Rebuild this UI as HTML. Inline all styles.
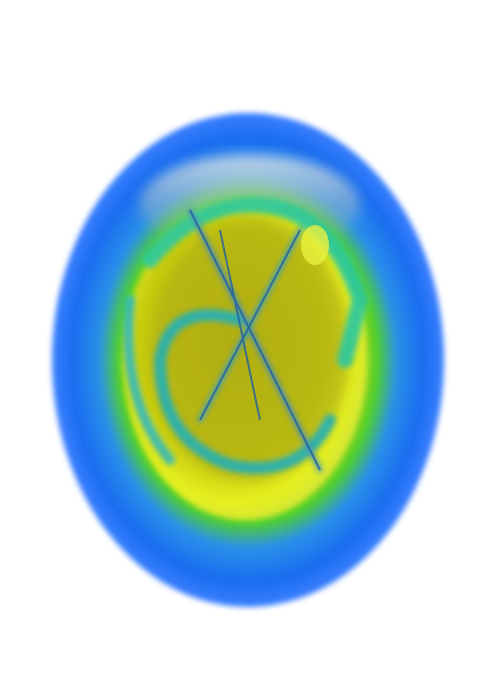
<!DOCTYPE html>
<html><head><meta charset="utf-8"><style>
html,body{margin:0;padding:0;background:#fff;width:492px;height:688px;overflow:hidden}
svg{display:block}
</style></head><body>
<svg width="492" height="688" viewBox="0 0 492 688" xmlns="http://www.w3.org/2000/svg">
<defs>
<radialGradient id="g1" cx="0.5" cy="0.5" r="0.5">
<stop offset="0" stop-color="#c8d400"/>
<stop offset="0.55" stop-color="#b8d820"/>
<stop offset="0.66" stop-color="#50d028"/>
<stop offset="0.76" stop-color="#2a90e8"/>
<stop offset="0.9" stop-color="#1a6cf0"/>
<stop offset="1" stop-color="#3a80ff"/>
</radialGradient>
<radialGradient id="g2" cx="0.45" cy="0.45" r="0.55">
<stop offset="0" stop-color="#b4b010"/>
<stop offset="0.7" stop-color="#c8cc10"/>
<stop offset="0.9" stop-color="#e6f020"/>
<stop offset="1" stop-color="#d8e830"/>
</radialGradient>
<linearGradient id="sil" x1="0" y1="0" x2="0" y2="1">
<stop offset="0" stop-color="#dde4ea" stop-opacity="0.85"/>
<stop offset="1" stop-color="#a0a8a0" stop-opacity="0"/>
</linearGradient>
<filter id="b6"><feGaussianBlur stdDeviation="6"/></filter>
<filter id="b3"><feGaussianBlur stdDeviation="3"/></filter>
</defs>
<ellipse cx="248" cy="360" rx="196" ry="247" fill="url(#g1)" filter="url(#b3)"/>
<ellipse cx="250" cy="205" rx="110" ry="50" fill="url(#sil)" filter="url(#b6)"/>
<ellipse cx="245" cy="360" rx="122" ry="160" fill="url(#g2)" filter="url(#b3)"/>
<ellipse cx="250" cy="350" rx="100" ry="130" fill="#b0ac18" opacity="0.6" filter="url(#b6)"/>
<g fill="none" stroke-linecap="round" filter="url(#b3)" opacity="0.9">
<path d="M150 260 Q200 200 260 205 Q330 210 360 300 L345 360" stroke="#2cc8a0" stroke-width="16"/>
<path d="M240 320 Q170 300 160 360 Q160 440 230 465 Q300 480 330 420" stroke="#20b0b8" stroke-width="12"/>
<path d="M190 210 L320 470" stroke="#3a8ac8" stroke-width="5"/>
<path d="M300 230 L200 420" stroke="#3aa0c0" stroke-width="5"/>
<path d="M130 300 Q120 400 170 460" stroke="#30b8c0" stroke-width="10"/>
</g>
<g fill="none" stroke="#2060a0" stroke-width="2" opacity="0.8">
<path d="M190 210 L320 470"/><path d="M300 230 L200 420"/><path d="M220 230 L260 420"/>
</g>
<ellipse cx="315" cy="245" rx="14" ry="20" fill="#e8f040" opacity="0.8"/>
</svg>
</body></html>
